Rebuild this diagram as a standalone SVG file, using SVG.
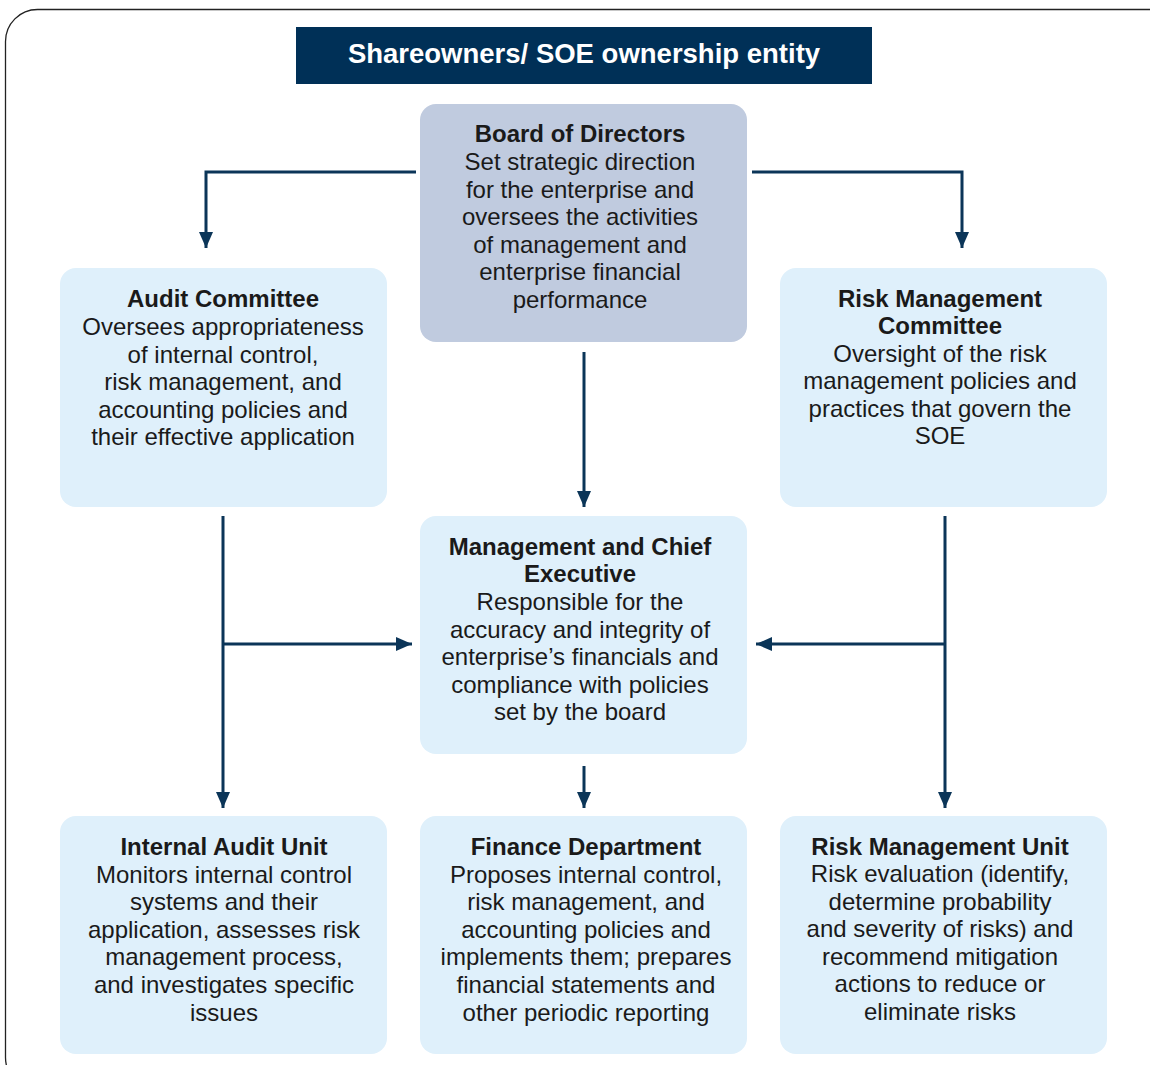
<svg xmlns="http://www.w3.org/2000/svg" width="1150" height="1065" viewBox="0 0 1150 1065">
<defs>
<marker id="ah" viewBox="0 0 16 14" refX="16" refY="7" markerWidth="16" markerHeight="14" markerUnits="userSpaceOnUse" orient="auto">
<path d="M0,0 L16,7 L0,14 Z" fill="#0b3558"/>
</marker>
</defs>
<style>
.box{fill:#dff0fb;}
.board{fill:#c0cbdf;}
.t{font-family:"Liberation Sans",Arial,sans-serif;font-size:24px;fill:#1a1a1a;text-anchor:middle;}
.b{font-weight:bold;}
.c{fill:none;stroke:#0b3558;stroke-width:3;}
</style>
<rect x="5.5" y="9.5" width="1180" height="1080" rx="32" fill="#fff" stroke="#222" stroke-width="1.3"/>
<g id="title">
<rect x="296" y="27" width="576" height="57" fill="#003057"/>
<text x="584" y="62.5" class="t b" style="fill:#fff;font-size:27.5px">Shareowners/ SOE ownership entity</text>
</g>
<g id="board">
<rect class="board" x="420" y="104" width="327" height="238" rx="16"/>
<text class="t" x="580"><tspan x="580" y="142" class="b">Board of Directors</tspan><tspan x="580" y="170">Set strategic direction</tspan><tspan x="580" y="197.5">for the enterprise and</tspan><tspan x="580" y="225">oversees the activities</tspan><tspan x="580" y="252.5">of management and</tspan><tspan x="580" y="280">enterprise financial</tspan><tspan x="580" y="308">performance</tspan></text>
</g>
<g id="audit-committee">
<rect class="box" x="60" y="268" width="327" height="239" rx="16"/>
<text class="t"><tspan x="223" y="307" class="b">Audit Committee</tspan><tspan x="223" y="335">Oversees appropriateness</tspan><tspan x="223" y="363">of internal control,</tspan><tspan x="223" y="390">risk management, and</tspan><tspan x="223" y="418">accounting policies and</tspan><tspan x="223" y="445">their effective application</tspan></text>
</g>
<g id="risk-committee">
<rect class="box" x="780" y="268" width="327" height="239" rx="16"/>
<text class="t"><tspan x="940" y="307" class="b">Risk Management</tspan><tspan x="940" y="334" class="b">Committee</tspan><tspan x="940" y="362">Oversight of the risk</tspan><tspan x="940" y="389">management policies and</tspan><tspan x="940" y="417">practices that govern the</tspan><tspan x="940" y="444">SOE</tspan></text>
</g>
<g id="management">
<rect class="box" x="420" y="516" width="327" height="238" rx="16"/>
<text class="t"><tspan x="580" y="555" class="b">Management and Chief</tspan><tspan x="580" y="582" class="b">Executive</tspan><tspan x="580" y="610">Responsible for the</tspan><tspan x="580" y="638">accuracy and integrity of</tspan><tspan x="580" y="665">enterprise’s financials and</tspan><tspan x="580" y="693">compliance with policies</tspan><tspan x="580" y="720">set by the board</tspan></text>
</g>
<g id="internal-audit">
<rect class="box" x="60" y="816" width="327" height="238" rx="16"/>
<text class="t"><tspan x="224" y="855" class="b">Internal Audit Unit</tspan><tspan x="224" y="883">Monitors internal control</tspan><tspan x="224" y="910">systems and their</tspan><tspan x="224" y="938">application, assesses risk</tspan><tspan x="224" y="965">management process,</tspan><tspan x="224" y="993">and investigates specific</tspan><tspan x="224" y="1021">issues</tspan></text>
</g>
<g id="finance">
<rect class="box" x="420" y="816" width="327" height="238" rx="16"/>
<text class="t"><tspan x="586" y="855" class="b">Finance Department</tspan><tspan x="586" y="883">Proposes internal control,</tspan><tspan x="586" y="910">risk management, and</tspan><tspan x="586" y="938">accounting policies and</tspan><tspan x="586" y="965">implements them; prepares</tspan><tspan x="586" y="993">financial statements and</tspan><tspan x="586" y="1021">other periodic reporting</tspan></text>
</g>
<g id="risk-unit">
<rect class="box" x="780" y="816" width="327" height="238" rx="16"/>
<text class="t"><tspan x="940" y="855" class="b">Risk Management Unit</tspan><tspan x="940" y="882">Risk evaluation (identify,</tspan><tspan x="940" y="910">determine probability</tspan><tspan x="940" y="937">and severity of risks) and</tspan><tspan x="940" y="965">recommend mitigation</tspan><tspan x="940" y="992">actions to reduce or</tspan><tspan x="940" y="1020">eliminate risks</tspan></text>
</g>
<g id="connectors">
<path class="c" d="M416,172 H206 V248" marker-end="url(#ah)"/>
<path class="c" d="M752,172 H962 V248" marker-end="url(#ah)"/>
<path class="c" d="M584,352 V507" marker-end="url(#ah)"/>
<path class="c" d="M223,516 V808" marker-end="url(#ah)"/>
<path class="c" d="M223,644 H412" marker-end="url(#ah)"/>
<path class="c" d="M945,516 V808" marker-end="url(#ah)"/>
<path class="c" d="M945,644 H756" marker-end="url(#ah)"/>
<path class="c" d="M584,766 V808" marker-end="url(#ah)"/>
</g>
</svg>
